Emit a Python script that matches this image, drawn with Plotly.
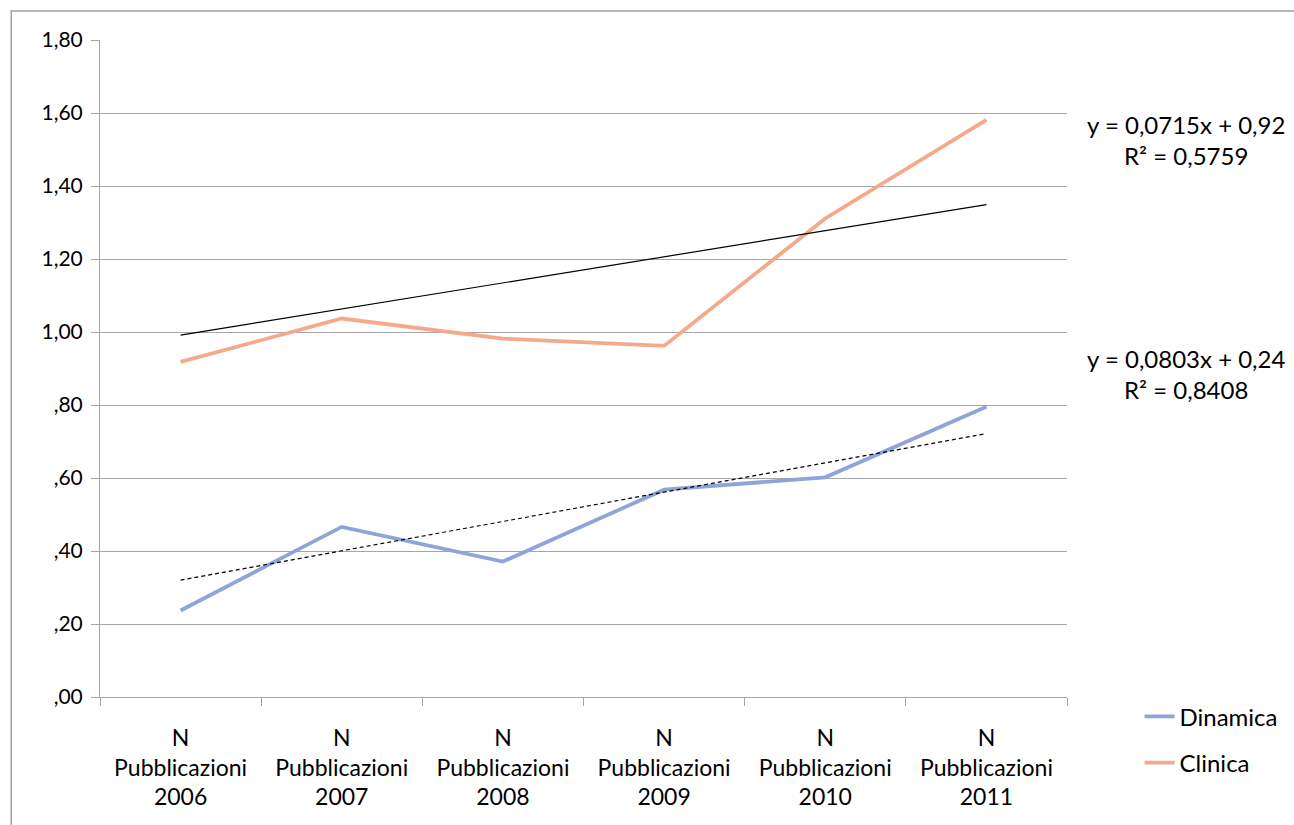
import plotly.graph_objects as go

# Categories and series values
anni = ["2006", "2007", "2008", "2009", "2010", "2011"]
categorie = ["N<br>Pubblicazioni<br>" + a for a in anni]
dinamica = [0.237, 0.466, 0.371, 0.568, 0.602, 0.795]
clinica = [0.918, 1.037, 0.982, 0.962, 1.311, 1.581]

# Linear trendline coefficients (slope, intercept, R²) as printed
trend_dinamica = (0.0803, 0.24, 0.8408)
trend_clinica = (0.0715, 0.92, 0.5759)

y_ticks = [0.0, 0.2, 0.4, 0.6, 0.8, 1.0, 1.2, 1.4, 1.6, 1.8]
y_ticktext = [",00", ",20", ",40", ",60", ",80", "1,00", "1,20", "1,40", "1,60", "1,80"]

FONT = "Lato, Calibri, sans-serif"
BLUE = "#8FA5D9"
ORANGE = "#F4AA8A"
GRID = "#A6A6A6"
TXT = 24


def trend_y(coef, idx):
    slope, intercept, _ = coef
    return slope * (idx + 1) + intercept


fig = go.Figure()

fig.add_trace(go.Scatter(
    x=categorie, y=dinamica, mode="lines", name="Dinamica", legendgroup="d",
    line=dict(color=BLUE, width=3.8),
))
fig.add_trace(go.Scatter(
    x=categorie, y=clinica, mode="lines", name="Clinica", legendgroup="c",
    line=dict(color=ORANGE, width=3.8),
))

# Trendlines spanning first to last category
ends = [0, len(categorie) - 1]
fig.add_trace(go.Scatter(
    x=[categorie[i] for i in ends], y=[trend_y(trend_dinamica, i) for i in ends],
    mode="lines", showlegend=False, hoverinfo="skip",
    line=dict(color="black", width=1.2, dash="4px,3px"),
))
fig.add_trace(go.Scatter(
    x=[categorie[i] for i in ends], y=[trend_y(trend_clinica, i) for i in ends],
    mode="lines", showlegend=False, hoverinfo="skip",
    line=dict(color="black", width=1.2),
))


def eq_text(coef):
    slope, intercept, r2 = coef
    s = f"{slope:.4f}".replace(".", ",")
    b = f"{intercept:.2f}".replace(".", ",")
    r = f"{r2:.4f}".replace(".", ",")
    return f"y = {s}x + {b}<br>R² = {r}"


for coef, ypos in [(trend_clinica, 1.527), (trend_dinamica, 0.886)]:
    fig.add_annotation(
        text=eq_text(coef), xref="paper", yref="y", x=1.1235, y=ypos,
        xanchor="center", yanchor="middle", align="center", showarrow=False,
        font=dict(family=FONT, size=TXT, color="black"),
    )

# Outer chart frame
fig.add_shape(
    type="rect", xref="paper", yref="paper",
    x0=-0.0918, x1=1.25, y0=-0.3, y1=1.044,
    line=dict(color="#A0A0A0", width=1.5), fillcolor="rgba(0,0,0,0)", layer="below",
)

fig.update_layout(
    width=1294, height=825,
    margin=dict(l=100, r=224, t=40, b=128),
    paper_bgcolor="white", plot_bgcolor="white",
    font=dict(family=FONT, size=TXT, color="black"),
    showlegend=True,
    legend=dict(
        x=1.075, y=0.004, xanchor="left", yanchor="top",
        font=dict(family=FONT, size=TXT, color="black"),
        bgcolor="rgba(0,0,0,0)", tracegroupgap=12,
    ),
    xaxis=dict(
        type="category", range=[-0.5, 5.5], tickson="boundaries",
        ticks="outside", ticklen=8, tickcolor=GRID, showgrid=False,
        showline=True, linecolor=GRID, linewidth=1, ticklabelstandoff=20,
        tickfont=dict(family=FONT, size=23, color="black"), zeroline=False,
    ),
    yaxis=dict(
        range=[0, 1.8], tickvals=y_ticks, ticktext=y_ticktext,
        ticks="outside", ticklen=8, tickcolor=GRID, showgrid=True,
        gridcolor=GRID, gridwidth=1, showline=True, linecolor=GRID,
        linewidth=1, zeroline=False, ticklabelstandoff=4,
        tickfont=dict(family=FONT, size=21, color="black"),
    ),
)

fig.write_html("out.html")
